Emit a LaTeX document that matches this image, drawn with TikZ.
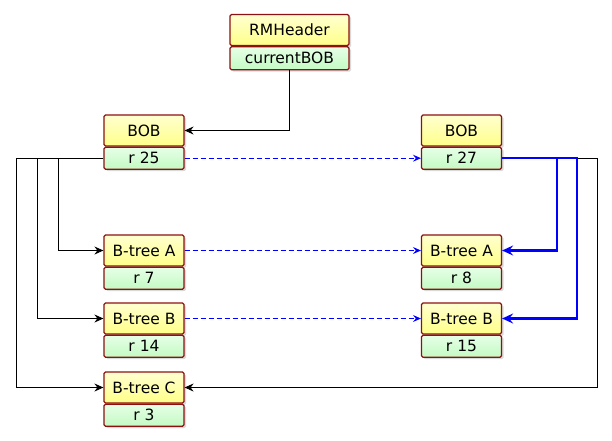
\documentclass[tikz,border=0pt]{standalone}
\usepackage{fontspec}
\setmainfont{DejaVu Sans}
\usetikzlibrary{positioning,arrows.meta,shadows}
\definecolor{boxline}{HTML}{8E1010}
\definecolor{hdtop}{HTML}{FFFFD0}
\definecolor{hdbot}{HTML}{FFFF88}
\definecolor{rowtop}{HTML}{E6FFE6}
\definecolor{rowbot}{HTML}{C4FAC4}
\begin{document}
\begin{tikzpicture}[x=1pt, y=-1pt,
              box/.style = {draw=boxline, line width=1.2pt, rounded corners=1.5pt, inner sep=0pt,
                            minimum width=80pt, font=\fontsize{15.5}{17}\selectfont,
                            drop shadow={shadow xshift=2pt, shadow yshift=-2pt, opacity=0.3}},
              hd/.style = {box, minimum height=31pt, top color=hdtop, bottom color=hdbot},
              row/.style = {box, minimum height=22pt, top color=rowtop, bottom color=rowbot},
              link/.style = {draw, line width=0.8pt, -{Stealth[length=9pt,width=8pt,inset=3pt]}},
              blink/.style = {draw=blue, line width=2.2pt, -{Stealth[length=11pt,width=10pt,inset=4pt]}},
              dlink/.style = {draw=blue, line width=0.8pt, dash pattern=on 5pt off 3pt,
                              -{Stealth[length=8pt,width=7pt,inset=3pt]}}
            ]
            \useasboundingbox (0,0) rectangle (612,440);
            % records
            \node[hd, minimum width=119pt] (rm) at (289.5,30) {RMHeader};
            \node[row, minimum width=119pt, minimum height=23pt, below=0pt of rm] (rmrow) {currentBOB};
            \node[hd] (bobL) at (144,130.5) {BOB};
            \node[row, below=0pt of bobL] (bobLrow) {r 25};
            \node[hd] (btaL) at (144,250.5) {B-tree A};
            \node[row, below=0pt of btaL] (btaLrow) {r 7};
            \node[hd] (btbL) at (144,318.5) {B-tree B};
            \node[row, below=0pt of btbL] (btbLrow) {r 14};
            \node[hd] (btcL) at (144,387.5) {B-tree C};
            \node[row, below=0pt of btcL] (btcLrow) {r 3};
            \node[hd] (bobR) at (461.5,130.5) {BOB};
            \node[row, below=0pt of bobR] (bobRrow) {r 27};
            \node[hd] (btaR) at (461.5,250.5) {B-tree A};
            \node[row, below=0pt of btaR] (btaRrow) {r 8};
            \node[hd] (btbR) at (461.5,318.5) {B-tree B};
            \node[row, below=0pt of btbR] (btbRrow) {r 15};
            % bend columns
            \coordinate (colA) at (58,0);
            \coordinate (colB) at (37,0);
            \coordinate (colC) at (16,0);
            \coordinate (colRa) at (557,0);
            \coordinate (colRb) at (577,0);
            \coordinate (colRc) at (597,0);
            % links
            \draw[link] (rmrow.south) |- (bobL.east);
            \draw[link] (bobLrow.west) -- (colA |- bobLrow.west) |- (btaL.west);
            \draw[link] (bobLrow.west) -- (colB |- bobLrow.west) |- (btbL.west);
            \draw[link] (bobLrow.west) -- (colC |- bobLrow.west) |- (btcL.west);
            \draw[link] (bobRrow.east) -- (colRc |- bobRrow.east) |- (btcL.east);
            \draw[blink] (bobRrow.east) -- (colRa |- bobRrow.east) |- (btaR.east);
            \draw[blink] (bobRrow.east) -- (colRb |- bobRrow.east) |- (btbR.east);
            \draw[dlink] (bobLrow.east) -- (bobRrow.west);
            \draw[dlink] (btaL.east) -- (btaR.west);
            \draw[dlink] (btbL.east) -- (btbR.west);
          \end{tikzpicture}
\end{document}
